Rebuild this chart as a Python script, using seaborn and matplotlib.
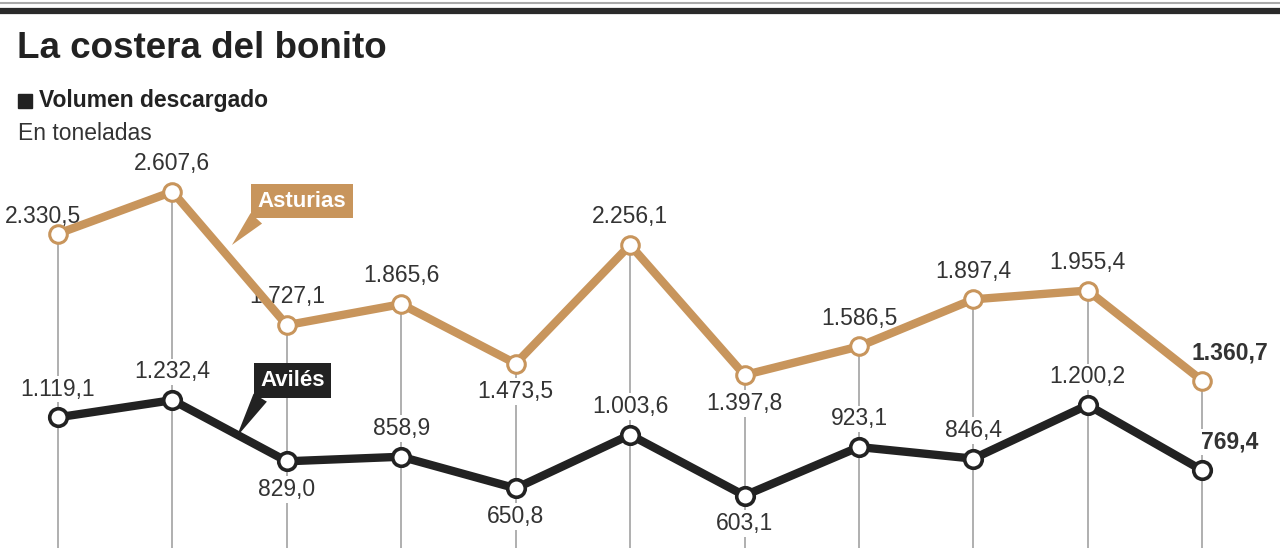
import matplotlib
matplotlib.use("Agg")
import matplotlib.pyplot as plt
import seaborn as sns
import pandas as pd
from matplotlib.lines import Line2D
from matplotlib.patches import Rectangle

# ---- data ----
periods = list(range(11))
asturias = [2330.5, 2607.6, 1727.1, 1865.6, 1473.5, 2256.1, 1397.8, 1586.5, 1897.4, 1955.4, 1360.7]
aviles = [1119.1, 1232.4, 829.0, 858.9, 650.8, 1003.6, 603.1, 923.1, 846.4, 1200.2, 769.4]
asturias_labels = ["2.330,5", "2.607,6", "1.727,1", "1.865,6", "1.473,5", "2.256,1",
                   "1.397,8", "1.586,5", "1.897,4", "1.955,4", "1.360,7"]
aviles_labels = ["1.119,1", "1.232,4", "829,0", "858,9", "650,8", "1.003,6",
                 "603,1", "923,1", "846,4", "1.200,2", "769,4"]
asturias_below = [False, False, False, False, True, False, True, False, False, False, False]
aviles_below = [False, False, True, False, True, False, True, False, False, False, False]

title = "La costera del bonito"
subtitle = "Volumen descargado"
units = "En toneladas"

C_AST = "#c8955c"
C_AVI = "#222222"

sns.set_theme(style="white")
plt.rcParams['font.family'] = ['Liberation Sans', 'DejaVu Sans']

df = pd.DataFrame({
    "period": periods * 2,
    "value": asturias + aviles,
    "region": ["Asturias"] * len(periods) + ["Avilés"] * len(periods),
})

W, H = 1280, 548
fig = plt.figure(figsize=(W / 100, H / 100), dpi=100)
ax = fig.add_axes([0, 0, 1, 1])
ax.set_xlim(-0.507, 10.68)
ax.set_ylim(257, 3872)
ax.axis("off")

# vertical guide lines
ax.vlines(periods, 257, asturias, color="#9a9a9a", lw=1.1, zorder=1)

sns.lineplot(data=df, x="period", y="value", hue="region",
             palette={"Asturias": C_AST, "Avilés": C_AVI},
             lw=6, legend=False, ax=ax, zorder=3, sort=False)
ax.scatter(periods, asturias, s=160, facecolor="white", edgecolor=C_AST, lw=2.2, zorder=4)
ax.scatter(periods, aviles, s=160, facecolor="white", edgecolor=C_AVI, lw=2.6, zorder=4)

bbox_w = dict(boxstyle="square,pad=0.08", fc="white", ec="none")

def put_labels(vals, labels, below, first_shift=False):
    n = len(vals)
    for i, (v, lab, b) in enumerate(zip(vals, labels, below)):
        last = (i == n - 1)
        dx = 20 if last else 0
        dy = -12 if b else 12
        if first_shift and i == 0:
            dx, dy = -11, 4
        ax.annotate(lab, (i, v), xytext=(dx, dy), textcoords="offset points",
                    ha="center", va="top" if b else "bottom",
                    fontsize=16.5, color="#333333",
                    fontweight="bold" if last else "normal",
                    bbox=bbox_w, zorder=2)

put_labels(asturias, asturias_labels, asturias_below, first_shift=True)
put_labels(aviles, aviles_labels, aviles_below)

# callout boxes
def callout(text, xy_box, xy_tip, color):
    ax.annotate(text, xy=xy_tip, xytext=xy_box, textcoords="data",
                ha="center", va="center", fontsize=16, fontweight="bold",
                color="white", zorder=6,
                bbox=dict(boxstyle="square,pad=0.3", fc=color, ec="none"),
                arrowprops=dict(arrowstyle="wedge,tail_width=0.7,shrink_factor=0.5",
                                fc=color, ec="none", shrinkA=0, shrinkB=0,
                                relpos=(0.1, 0.2)))

callout("Asturias", (2.13, 2545), (1.52, 2256), C_AST)
callout("Avilés", (2.05, 1362), (1.56, 989), C_AVI)

# header rules
fig.add_artist(Line2D([0, 1], [1 - 2.5 / H, 1 - 2.5 / H], color="#aaaaaa", lw=1.5,
                      transform=fig.transFigure))
fig.add_artist(Line2D([0, 1], [1 - 10.5 / H, 1 - 10.5 / H], color="#2a2a2a", lw=4.5,
                      transform=fig.transFigure))

# titles
fig.text(17 / W, 1 - 49 / H, title, fontsize=26.5, fontweight="bold",
         color="#222222", ha="left", va="center")
fig.add_artist(Rectangle((18 / W, 1 - 108 / H), 14 / W, 14 / H, color="#222222",
                         transform=fig.transFigure))
fig.text(39 / W, 1 - 101 / H, subtitle, fontsize=16.5, fontweight="bold",
         color="#222222", ha="left", va="center")
fig.text(18 / W, 1 - 133 / H, units, fontsize=16.5,
         color="#333333", ha="left", va="center")

fig.savefig("out.png", dpi=100)
